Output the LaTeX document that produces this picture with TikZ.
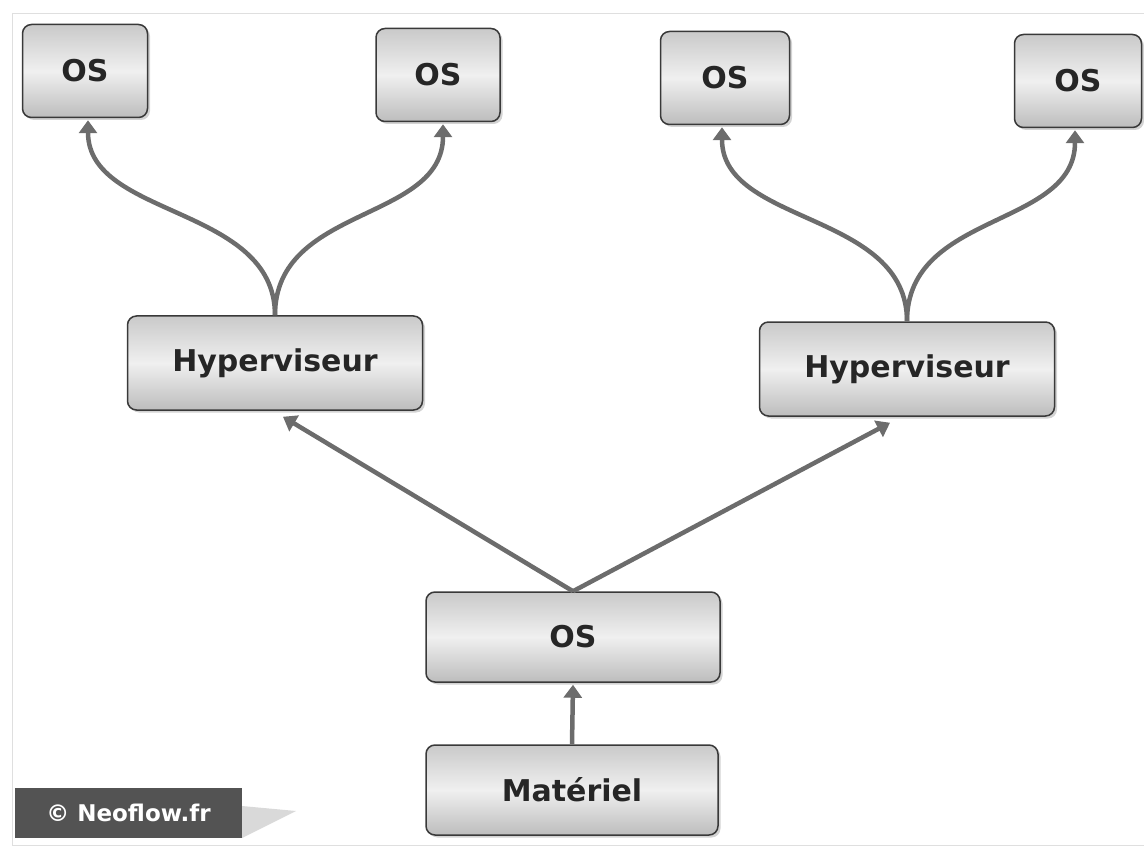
\documentclass[tikz,border=0pt]{standalone}
\usepackage{fontspec}
\setmainfont{DejaVu Sans}
\usetikzlibrary{arrows.meta,shadows,calc}
\begin{document}
\begin{tikzpicture}[x=1pt,y=-1pt,
  box/.style={draw=gray!45!black, line width=1.5pt, rounded corners=9pt,
    top color=gray!42, bottom color=gray!52, middle color=gray!12,
    drop shadow={shadow xshift=2.5pt, shadow yshift=-2.5pt, opacity=0.35},
    font=\fontsize{30}{33}\selectfont\bfseries, text=black!85, inner sep=0pt},
  conn/.style={draw=gray!85!black, line width=4.5pt,
    -{Triangle[length=13pt, width=18pt]}},
]
\useasboundingbox (0,0) rectangle (1144,853);
% faint frame of the page
\draw[gray!25, line width=0.6pt] (12,13) -- (1144,13);
\draw[gray!25, line width=0.6pt] (12,13) -- (12,845) -- (1144,845);

% boxes
\node[box, minimum width=125pt, minimum height=93pt] (os1) at (85,71) {OS};
\node[box, minimum width=124pt, minimum height=93pt] (os2) at (438,75) {OS};
\node[box, minimum width=129pt, minimum height=93pt] (os3) at (725,78) {OS};
\node[box, minimum width=127pt, minimum height=93pt] (os4) at (1078,81) {OS};
\node[box, minimum width=295pt, minimum height=94pt] (hl) at (275,363) {Hyperviseur};
\node[box, minimum width=295pt, minimum height=94pt] (hr) at (907,369) {Hyperviseur};
\node[box, minimum width=294pt, minimum height=90pt] (osb) at (573,637) {OS};
\node[box, minimum width=292pt, minimum height=90pt] (hw) at (572,790) {Matériel};

% connectors
\draw[conn] (hl.north) .. controls ($(hl.north)+(0,-110)$) and ($(os1.south)+(3,100)$) .. ($(os1.south)+(3,2)$);
\draw[conn] (hl.north) .. controls ($(hl.north)+(0,-110)$) and ($(os2.south)+(5,100)$) .. ($(os2.south)+(5,2)$);
\draw[conn] (hr.north) .. controls ($(hr.north)+(0,-110)$) and ($(os3.south)+(-3,100)$) .. ($(os3.south)+(-3,2)$);
\draw[conn] (hr.north) .. controls ($(hr.north)+(0,-110)$) and ($(os4.south)+(-3,100)$) .. ($(os4.south)+(-3,2)$);
\draw[conn] (osb.north) -- ($(hl.south)+(8,6)$);
\draw[conn] (osb.north) -- ($(hr.south)+(-17,6)$);
\draw[conn] (hw.north) -- ($(osb.south)+(0,2)$);

% copyright label
\fill[gray!30] (242,806) -- (296,811) -- (242,838) -- cycle;
\node[fill=gray!65!black, minimum width=227pt, minimum height=50pt, inner sep=0pt,
  text=white, font=\fontsize{23}{26}\selectfont\bfseries] (wm) at (128.5,813) {© Neoflow.fr};
\end{tikzpicture}
\end{document}
